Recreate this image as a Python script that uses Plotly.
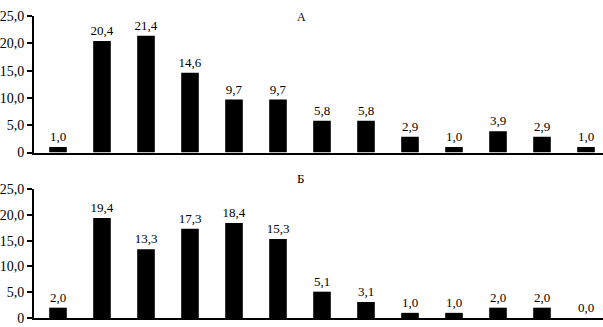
import plotly.graph_objects as go

categories = list(range(1, 14))
values_a = [1.0, 20.4, 21.4, 14.6, 9.7, 9.7, 5.8, 5.8, 2.9, 1.0, 3.9, 2.9, 1.0]
values_b = [2.0, 19.4, 13.3, 17.3, 18.4, 15.3, 5.1, 3.1, 1.0, 1.0, 2.0, 2.0, 0.0]
tick_vals = [0, 5, 10, 15, 20, 25]
tick_text = ["0", "5,0", "10,0", "15,0", "20,0", "25,0"]
titles = ["А", "Б"]

W, H = 603, 327
fig = go.Figure()

font_fam = "Liberation Serif, Times New Roman, serif"

for i, vals in enumerate([values_a, values_b]):
    xa = "x" if i == 0 else "x2"
    ya = "y" if i == 0 else "y2"
    fig.add_trace(go.Bar(
        x=categories, y=vals, xaxis=xa, yaxis=ya,
        marker=dict(color="black", line=dict(width=0)),
        width=0.4,
        text=[f"{v:.1f}".replace(".", ",") for v in vals],
        textposition="outside",
        constraintext="none",
        textfont=dict(family=font_fam, size=13, color="#000000"),
        cliponaxis=False,
        showlegend=False,
        hoverinfo="skip",
    ))

def fy(px):
    return (H - px) / H

left = 34
x_start = categories[0] - (58 - left) / 44.0
x_end = x_start + (W - left) / 44.0

common_x = dict(range=[x_start, x_end], showticklabels=False, ticks="",
                showline=True, linecolor="black", linewidth=2, showgrid=False,
                zeroline=False, fixedrange=True, automargin=False)
common_y = dict(range=[0, 25], tickvals=tick_vals, ticktext=tick_text,
                ticks="outside", ticklen=5, tickwidth=2, tickcolor="black",
                showline=True, linecolor="black", linewidth=2, showgrid=False,
                zeroline=False, automargin=False, fixedrange=True,
                ticklabeloverflow="allow",
                tickfont=dict(family=font_fam, size=14, color="black"))

fig.update_layout(
    width=W, height=H,
    margin=dict(l=left, r=0, t=0, b=0, autoexpand=False),
    plot_bgcolor="white", paper_bgcolor="white",
    xaxis=dict(domain=[0, 1], anchor="y", **common_x),
    yaxis=dict(domain=[fy(152.5), fy(16)], anchor="x", **common_y),
    xaxis2=dict(domain=[0, 1], anchor="y2", **common_x),
    yaxis2=dict(domain=[fy(318), fy(189)], anchor="x2", **common_y),
    annotations=[
        dict(text=titles[0], x=(301 - left) / (W - left), y=fy(8),
             xref="paper", yref="paper", showarrow=False,
             font=dict(family=font_fam, size=12, color="black")),
        dict(text=titles[1], x=(300 - left) / (W - left), y=fy(178),
             xref="paper", yref="paper", showarrow=False,
             font=dict(family=font_fam, size=13, color="black")),
    ],
)

fig.write_html("out.html", config={"displayModeBar": False},
               post_script="document.body.style.margin='0px';document.body.style.overflow='hidden';")
